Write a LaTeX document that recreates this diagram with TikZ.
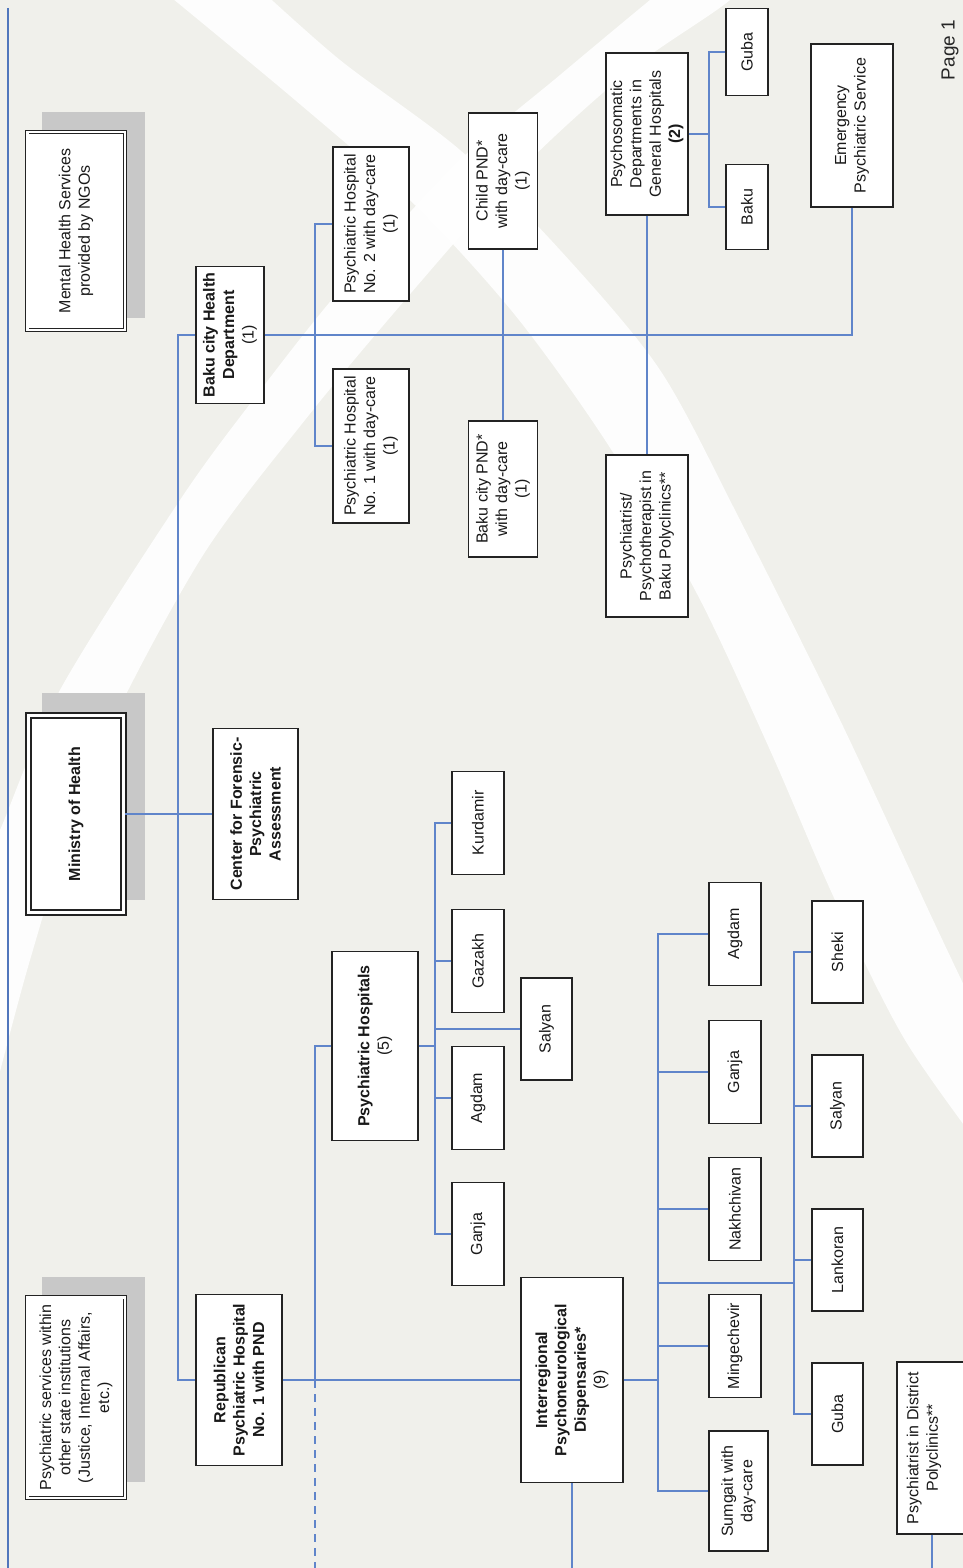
\documentclass[tikz,border=0pt]{standalone}
\usepackage{fontspec}
\setmainfont{Liberation Sans}
\usetikzlibrary{calc}
\definecolor{bgc}{RGB}{240,240,235}
\definecolor{lnc}{RGB}{96,133,202}
\definecolor{edgec}{RGB}{80,118,188}
\definecolor{shc}{RGB}{200,200,200}
\definecolor{bdc}{RGB}{35,35,35}
\begin{document}
\begin{tikzpicture}[x=0.5pt,y=-0.5pt,
  box/.style={draw=bdc, fill=white, line width=0.6pt, rotate=90, inner sep=0pt, align=center,
    font=\fontsize{8}{9.7}\selectfont, text=black!90},
  dbox/.style={box, line width=0.45pt, double=white, double distance=1.3pt},
  tbox/.style={box, line width=1.1pt, double=white, double distance=1.2pt},
  cbox/.style={box, minimum width=51.5pt, minimum height=26pt},
  rbox/.style={box, minimum width=51pt, minimum height=25.5pt},
  conn/.style={draw=lnc, line width=1pt},
  ]
\useasboundingbox (0,0) rectangle (963,1568);
\fill[bgc] (0,0) rectangle (963,1568);
% background bands
\begin{scope}
\clip (0,0) rectangle (963,1568);
\fill[white, opacity=0.9] plot[smooth] coordinates {(-20,870) (0,830) (60,690) (180,500) (253,400) (340,290) (460,160) (560,75) (650,0) (700,-40)}
  -- plot[smooth] coordinates {(760,-40) (730,0) (630,70) (520,170) (405,300) (305,420) (200,560) (95,760) (30,960) (-20,1150)} -- cycle;
\fill[white, opacity=0.9] plot[smooth] coordinates {(250,-20) (340,60) (460,150) (560,250) (660,370) (740,520) (840,720) (933,920) (990,1040)}
  -- plot[smooth] coordinates {(990,1160) (905,1040) (835,900) (770,750) (695,590) (605,440) (515,315) (415,205) (295,100) (150,-20)} -- cycle;
\end{scope}
\coordinate (bot) at (0,1568);
\draw[edgec, line width=1pt] (8,8) -- (8,1568);
% shadows
\fill[shc] (42,112) rectangle (145,318);
\fill[shc] (42,693) rectangle (145,900);
\fill[shc] (42,1277) rectangle (145,1482);
% top-level boxes
\node[dbox, minimum width=98.8pt, minimum height=48.8pt] (ngo) at (76,231) {Mental Health Services\\provided by NGOs};
\node[tbox, minimum width=98.6pt, minimum height=47.6pt, font=\fontsize{8}{9.7}\selectfont\bfseries] (moh) at (76,814) {Ministry of Health};
\node[dbox, minimum width=100.3pt, minimum height=48.8pt] (oth) at (76,1397.5) {Psychiatric services within\\other state institutions\\(Justice, Internal Affairs,\\etc.)};
% second level
\node[box, minimum width=68.5pt, minimum height=34pt] (bhd) at (230,335) {\textbf{Baku city Health}\\\textbf{Department}\\(1)};
\node[box, minimum width=85.5pt, minimum height=42.5pt] (cfa) at (255.5,814) {\textbf{Center for Forensic-}\\\textbf{Psychiatric}\\\textbf{Assessment}};
\node[box, minimum width=85.5pt, minimum height=43pt] (rep) at (239,1380) {\textbf{Republican}\\\textbf{Psychiatric Hospital}\\\textbf{No. 1 with PND}};
% Baku branch
\node[box, minimum width=77pt, minimum height=38pt] (ph2) at (371,224) {Psychiatric Hospital\\No. 2 with day-care\\(1)};
\node[box, minimum width=77pt, minimum height=38pt] (ph1) at (371,446) {Psychiatric Hospital\\No. 1 with day-care\\(1)};
\node[box, minimum width=68pt, minimum height=34.5pt] (cpnd) at (503,181) {Child PND*\\with day-care\\(1)};
\node[box, minimum width=68pt, minimum height=34.5pt] (bpnd) at (503,489) {Baku city PND*\\with day-care\\(1)};
\node[box, minimum width=81pt, minimum height=41pt] (psd) at (647,134) {Psychosomatic\\Departments in\\General Hospitals\\\textbf{(2)}};
\node[box, minimum width=81pt, minimum height=41pt] (ppt) at (647,536) {Psychiatrist/\\Psychotherapist in\\Baku Polyclinics**};
\node[box, minimum width=43.5pt, minimum height=21pt] (gub1) at (747,52) {Guba};
\node[box, minimum width=42.5pt, minimum height=21pt] (bak1) at (747,207) {Baku};
\node[box, minimum width=81.5pt, minimum height=41pt] (eps) at (852,125.5) {Emergency\\Psychiatric Service};
% psychiatric hospitals
\node[box, minimum width=94.5pt, minimum height=43pt] (psh) at (375,1046) {\textbf{Psychiatric Hospitals}\\(5)};
\node[cbox] (kur) at (478,823) {Kurdamir};
\node[cbox] (gaz) at (478,961) {Gazakh};
\node[cbox] (agd1) at (478,1098) {Agdam};
\node[cbox] (gan1) at (478,1234) {Ganja};
\node[rbox] (sal1) at (546.5,1029) {Salyan};
% dispensaries
\node[box, minimum width=102.5pt, minimum height=51pt] (ipd) at (572,1380) {\textbf{Interregional}\\\textbf{Psychoneurological}\\\textbf{Dispensaries*}\\(9)};
\node[cbox] (agd2) at (735,934) {Agdam};
\node[cbox] (gan2) at (735,1072) {Ganja};
\node[cbox] (nak) at (735,1209) {Nakhchivan};
\node[cbox] (min) at (735,1346) {Mingechevir};
\node[box, minimum width=60pt, minimum height=29.5pt] (sum) at (738.5,1491) {Sumgait with\\day-care};
\node[rbox] (shk) at (837.5,952) {Sheki};
\node[rbox] (sal2) at (837.5,1106) {Salyan};
\node[rbox] (lan) at (837.5,1260) {Lankoran};
\node[rbox] (gub2) at (837.5,1414) {Guba};
\node[box, minimum width=86pt, minimum height=35pt] (pdp) at (932,1448) {Psychiatrist in District\\Polyclinics**\\\mbox{}};
\node[rotate=90, font=\fontsize{9.5}{11}\selectfont, text=black!85, inner sep=0pt] (pg) at (950,50) {Page 1};
% connectors
\draw[conn] (moh.south) -- (moh.south -| cfa.north);
\draw[conn] (bhd.north) -- ++(-17,0) |- (rep.north);
\draw[conn] (bhd.south) -| (eps.west);
\draw[conn] (ph2.north) -- ++(-17,0) |- (ph1.north);
\draw[conn] (cpnd.west) -- (bpnd.east);
\draw[conn] (psd.west) -- (ppt.east);
\coordinate (jg) at (709,134);
\draw[conn] (psd.south) -- (jg);
\draw[conn] (gub1.north) -| (jg) |- (bak1.north);
\draw[conn] (psh.north) -- ++(-16,0) coordinate (jp) -- (jp |- rep.south);
\draw[conn, dash pattern=on 4pt off 3pt] (jp |- rep.south) -- (jp |- bot);
\draw[conn] (rep.south) -- (rep.south -| ipd.north);
\draw[conn] (ipd.west) -- (ipd.west |- bot);
\coordinate (jh) at (435,1046);
\draw[conn] (psh.south) -- (jh);
\draw[conn] (kur.north) -| (jh) |- (gan1.north);
\draw[conn] (gaz.north) -- (gaz.north -| jh);
\draw[conn] (agd1.north) -- (agd1.north -| jh);
\draw[conn] (sal1.north) -- (sal1.north -| jh);
\coordinate (ji) at (658,1380);
\draw[conn] (ipd.south) -- (ji);
\draw[conn] (agd2.north) -| (ji) |- (sum.north);
\draw[conn] (gan2.north) -- (gan2.north -| ji);
\draw[conn] (nak.north) -- (nak.north -| ji);
\draw[conn] (min.north) -- (min.north -| ji);
\coordinate (jk) at (794,1283);
\draw[conn] (ji |- jk) -- (jk);
\draw[conn] (shk.north) -| (jk) |- (gub2.north);
\draw[conn] (sal2.north) -- (sal2.north -| jk);
\draw[conn] (lan.north) -- (lan.north -| jk);
\draw[conn] (pdp.west) -- (pdp.west |- bot);
\end{tikzpicture}
\end{document}
